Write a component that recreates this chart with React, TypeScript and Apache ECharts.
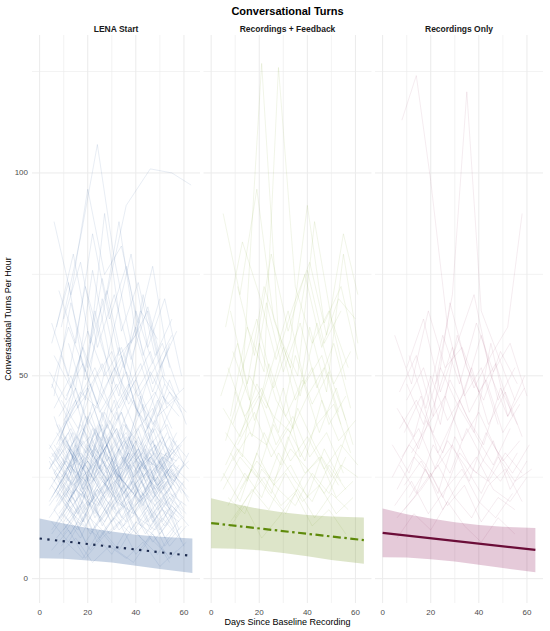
import React, { useEffect, useRef } from "react";
import * as echarts from "echarts";

const chartTitle = "Conversational Turns";
const panelNames = ["LENA Start", "Recordings + Feedback", "Recordings Only"];
const xAxisTitle = "Days Since Baseline Recording";
const yAxisTitle = "Conversational Turns Per Hour";
const xTickLabels = [0, 20, 40, 60];
const yTickLabels = [0, 50, 100];
const xMajorGrid = [0, 20, 40, 60];
const xMinorGrid = [10, 30, 50];
const yMajorGrid = [0, 50, 100];
const yMinorGrid = [25, 75, 125];

// individual trajectories: [day, turns, day, turns, ...]
const lenaTrajectories: number[][] = [
  [6, 24, 13, 31, 20, 18, 27, 35, 34, 22, 41, 28, 48, 19, 55, 26],
  [5, 30, 12, 36, 19, 22, 26, 41, 33, 31, 40, 25, 47, 34, 54, 23, 60, 28],
  [8, 15, 15, 22, 22, 12, 29, 19, 36, 14, 43, 21, 50, 11, 57, 17],
  [4, 29, 11, 20, 18, 34, 25, 27, 32, 41, 39, 25, 46, 30, 53, 22],
  [9, 55, 16, 42, 23, 66, 30, 48, 37, 58, 44, 39, 51, 50, 58, 44],
  [7, 19, 14, 27, 21, 23, 28, 16, 35, 30, 42, 20, 49, 25, 56, 18],
  [6, 33, 13, 26, 20, 40, 27, 31, 34, 27, 41, 37, 48, 24, 55, 32, 62, 27],
  [10, 12, 17, 18, 24, 9, 31, 15, 38, 11, 45, 17, 52, 8, 59, 13],
  [5, 47, 12, 62, 19, 51, 26, 74, 33, 55, 40, 60, 47, 46, 54, 58],
  [8, 26, 15, 35, 22, 29, 29, 24, 36, 38, 43, 30, 50, 27, 57, 34],
  [11, 21, 18, 14, 25, 25, 32, 19, 39, 16, 46, 23, 53, 15],
  [4, 27, 11, 34, 18, 23, 25, 30, 32, 37, 39, 25, 46, 31, 53, 21, 60, 28],
  [7, 62, 14, 80, 21, 58, 28, 71, 35, 52, 42, 66, 49, 59],
  [9, 30, 16, 23, 23, 37, 30, 28, 37, 22, 44, 33, 51, 25, 58, 30],
  [6, 17, 13, 24, 20, 20, 27, 28, 34, 15, 41, 22, 48, 18, 55, 23],
  [12, 32, 19, 24, 26, 38, 33, 27, 40, 34, 47, 22, 54, 30],
  [5, 25, 12, 19, 19, 28, 26, 21, 33, 32, 40, 26, 47, 20, 54, 27, 61, 22],
  [8, 71, 15, 58, 22, 85, 29, 64, 36, 77, 43, 55, 50, 69],
  [10, 28, 17, 38, 24, 31, 31, 44, 38, 29, 45, 36, 52, 27, 59, 33],
  [7, 14, 14, 20, 21, 11, 28, 17, 35, 23, 42, 13, 49, 19, 56, 12],
  [4, 30, 11, 24, 18, 36, 25, 27, 32, 21, 39, 33, 46, 26, 53, 31],
  [13, 23, 20, 29, 27, 21, 34, 26, 41, 32, 48, 22, 55, 28, 62, 24],
  [6, 40, 13, 28, 20, 47, 27, 34, 34, 41, 41, 30, 48, 37, 55, 27],
  [9, 32, 16, 26, 23, 36, 30, 22, 37, 31, 44, 27, 51, 35, 58, 25],
  [5, 20, 12, 27, 19, 17, 26, 24, 33, 20, 40, 29, 47, 16, 54, 22],
  [8, 34, 15, 44, 22, 30, 29, 39, 36, 32, 43, 43, 50, 28, 57, 36],
  [11, 18, 18, 25, 25, 15, 32, 22, 39, 28, 46, 19, 53, 24, 60, 17],
  [7, 26, 14, 21, 21, 32, 28, 24, 35, 29, 42, 20, 49, 27, 56, 23],
  [6, 88, 13, 70, 20, 96, 27, 75, 34, 82, 41, 63],
  [10, 24, 17, 31, 24, 26, 31, 20, 38, 34, 45, 25, 52, 30, 59, 21],
  [4, 27, 11, 35, 18, 22, 25, 30, 32, 37, 39, 23, 46, 32, 53, 26],
  [9, 16, 16, 12, 23, 21, 30, 14, 37, 19, 44, 11, 51, 17, 58, 14],
  [12, 58, 19, 44, 26, 69, 33, 50, 40, 62, 47, 48, 54, 57],
  [5, 31, 12, 24, 19, 38, 26, 29, 33, 25, 40, 34, 47, 28, 54, 35, 61, 30],
  [8, 32, 15, 26, 22, 37, 29, 28, 36, 35, 43, 25, 50, 31, 57, 29],
  [7, 22, 14, 30, 21, 25, 28, 33, 35, 21, 42, 29, 49, 23, 56, 27],
  [13, 28, 20, 20, 27, 34, 34, 24, 41, 30, 48, 22, 55, 28],
  [6, 26, 13, 21, 20, 30, 27, 24, 34, 36, 41, 27, 48, 33, 55, 25, 62, 29],
  [10, 64, 17, 78, 24, 57, 31, 70, 38, 54, 45, 67, 52, 50],
  [4, 19, 11, 26, 18, 16, 25, 22, 32, 27, 39, 18, 46, 24, 53, 20],
  [9, 25, 16, 31, 23, 24, 30, 36, 37, 27, 44, 32, 51, 22, 58, 28],
  [5, 11, 12, 17, 19, 13, 26, 20, 33, 12, 40, 16, 47, 9, 54, 14],
  [8, 38, 15, 29, 22, 43, 29, 31, 36, 36, 43, 27, 50, 34, 57, 30],
  [11, 29, 18, 22, 25, 33, 32, 26, 39, 31, 46, 21, 53, 27, 60, 23],
  [9, 62, 17, 84, 24, 107, 31, 79, 38, 58, 45, 66, 52, 48],
  [28, 70, 36, 92, 46, 101, 55, 100, 63, 97],
  [6, 45, 13, 68, 20, 52, 27, 90, 34, 61, 41, 73, 48, 55, 55, 64],
  [10, 38, 17, 55, 24, 43, 31, 62, 38, 80, 45, 57, 52, 69, 59, 50],
  [5, 58, 12, 73, 19, 49, 26, 64, 33, 88, 40, 60, 47, 77, 54, 52],
  [8, 33, 15, 47, 22, 76, 29, 55, 36, 44, 43, 70, 50, 52, 57, 61],
  [12, 27, 19, 40, 26, 34, 33, 57, 40, 42, 47, 36, 54, 49, 61, 38],
  [7, 20, 14, 31, 21, 24, 28, 38, 35, 29, 42, 45, 49, 26, 56, 34],
  [9, 23, 16, 16, 23, 28, 30, 21, 37, 17, 44, 26, 51, 19, 58, 15],
  [4, 32, 11, 39, 18, 27, 25, 35, 32, 25, 39, 38, 46, 28, 53, 36],
  [6, 17, 13, 11, 20, 19, 27, 14, 34, 22, 41, 15, 48, 12, 55, 18, 62, 13],
  [11, 31, 18, 37, 25, 27, 32, 35, 39, 44, 46, 33, 53, 38, 60, 28],
  [5, 28, 12, 33, 19, 26, 26, 31, 33, 24, 40, 30, 47, 37, 54, 25],
  [8, 21, 15, 16, 22, 24, 29, 30, 36, 18, 43, 23, 50, 28, 57, 20],
  [13, 36, 20, 26, 27, 32, 34, 41, 41, 28, 48, 33, 55, 24],
  [7, 29, 14, 36, 21, 31, 28, 26, 35, 33, 42, 38, 49, 29, 56, 24, 62, 31],
  [10, 14, 17, 21, 24, 18, 31, 26, 38, 15, 45, 20, 52, 24, 59, 16],
  [6, 27, 13, 20, 20, 33, 27, 28, 34, 22, 41, 35, 48, 24, 55, 31],
  [9, 25, 16, 32, 23, 19, 30, 27, 37, 35, 44, 24, 51, 30, 58, 27],
  [5, 63, 12, 50, 19, 72, 26, 57, 33, 45, 40, 66, 47, 53],
  [8, 18, 15, 25, 22, 33, 29, 20, 36, 27, 43, 31, 50, 21, 57, 26],
  [12, 39, 19, 31, 26, 37, 33, 28, 40, 36, 47, 42, 54, 30, 61, 35],
  [4, 22, 11, 29, 18, 24, 25, 18, 32, 26, 39, 21, 46, 27, 53, 31],
  [7, 36, 14, 30, 21, 41, 28, 29, 35, 38, 42, 33, 49, 44, 56, 31],
  [10, 20, 17, 13, 24, 22, 31, 17, 38, 24, 45, 14, 52, 20, 59, 9],
  [6, 30, 13, 37, 20, 27, 27, 41, 34, 33, 41, 26, 48, 39, 55, 29],
  [9, 15, 16, 23, 23, 16, 30, 25, 37, 20, 44, 28, 51, 14, 58, 22],
  [8, 6, 15, 10, 22, 4, 29, 8, 36, 5, 43, 9, 50, 3, 57, 7],
  [11, 9, 18, 5, 25, 12, 32, 7, 39, 4, 46, 10, 53, 6],
  [5, 12, 12, 18, 19, 9, 26, 15, 33, 21, 40, 11, 47, 16, 54, 8, 61, 13],
  [7, 22, 14, 15, 21, 26, 28, 19, 35, 13, 42, 24, 49, 17, 56, 21],
  [9, 8, 16, 14, 23, 11, 30, 6, 37, 13, 44, 9, 51, 15, 58, 10],
  [4, 18, 11, 24, 18, 14, 25, 21, 32, 28, 39, 16, 46, 22, 53, 17],
  [6, 31, 13, 24, 20, 29, 27, 20, 34, 26, 41, 32, 48, 21, 55, 27, 62, 19],
  [10, 16, 17, 10, 24, 19, 31, 24, 38, 12, 45, 18, 52, 13, 59, 19],
  [8, 27, 15, 33, 22, 21, 29, 28, 36, 23, 43, 18, 50, 29, 57, 22],
  [5, 14, 12, 9, 19, 16, 26, 12, 33, 7, 40, 14, 47, 11, 54, 5, 61, 9],
  [11, 25, 18, 20, 25, 28, 32, 16, 39, 23, 46, 27, 53, 18, 60, 24],
  [7, 10, 14, 15, 21, 7, 28, 13, 35, 18, 42, 10, 49, 6, 56, 12],
  [6, 21, 13, 28, 20, 18, 27, 23, 34, 30, 41, 19, 48, 25, 55, 16],
  [9, 35, 16, 28, 23, 32, 30, 25, 37, 31, 44, 22, 51, 28, 58, 33],
  [4, 15, 11, 21, 18, 26, 25, 14, 32, 19, 39, 24, 46, 13, 53, 19, 60, 15],
  [12, 19, 19, 26, 26, 13, 33, 20, 40, 25, 47, 15, 54, 21, 61, 18],
  [8, 24, 15, 19, 22, 29, 29, 35, 36, 20, 43, 26, 50, 19, 57, 25],
  [5, 7, 12, 12, 19, 5, 26, 10, 33, 14, 40, 6, 47, 11, 54, 4],
  [7, 29, 14, 23, 21, 27, 28, 33, 35, 24, 42, 19, 49, 28, 56, 24, 62, 20],
  [10, 11, 17, 17, 24, 22, 31, 12, 38, 17, 45, 21, 52, 10, 59, 15],
  [6, 26, 13, 32, 20, 24, 27, 29, 34, 18, 41, 27, 48, 31, 55, 22],
  [9, 20, 16, 26, 23, 15, 30, 22, 37, 28, 44, 17, 51, 23, 58, 12],
  [4, 33, 11, 27, 18, 30, 25, 38, 32, 26, 39, 21, 46, 30, 53, 25],
  [11, 14, 18, 19, 25, 10, 32, 16, 39, 21, 46, 12, 53, 17, 60, 8],
  [5, 23, 12, 17, 19, 22, 26, 27, 33, 18, 40, 23, 47, 14, 54, 20, 61, 16],
  [8, 16, 15, 22, 22, 18, 29, 11, 36, 16, 43, 20, 50, 12, 57, 18],
  [7, 38, 14, 31, 21, 35, 28, 27, 35, 34, 42, 29, 49, 23, 56, 30],
  [6, 42, 13, 50, 20, 38, 27, 47, 34, 55, 41, 40, 48, 46, 55, 37],
  [9, 36, 16, 44, 23, 52, 30, 41, 37, 48, 44, 36, 51, 45, 58, 40],
  [5, 48, 12, 39, 19, 45, 26, 53, 33, 42, 40, 49, 47, 38, 54, 46, 61, 41],
  [8, 40, 15, 47, 22, 35, 29, 44, 36, 51, 43, 42, 50, 36, 57, 45],
  [11, 45, 18, 53, 25, 41, 32, 48, 39, 38, 46, 51, 53, 43, 60, 47],
  [7, 33, 14, 42, 21, 48, 28, 37, 35, 45, 42, 53, 49, 40, 56, 44],
  [4, 51, 11, 44, 18, 57, 25, 46, 32, 39, 39, 48, 46, 56, 53, 42],
  [10, 39, 17, 46, 24, 42, 31, 52, 38, 44, 45, 37, 52, 48, 59, 41],
  [6, 55, 13, 47, 20, 61, 27, 50, 34, 57, 41, 45, 48, 52, 55, 60],
  [9, 44, 16, 37, 23, 49, 30, 56, 37, 43, 44, 50, 51, 58, 58, 46],
];

const feedbackTrajectories: number[][] = [
  [6, 34, 13, 48, 21, 127, 28, 60, 35, 44, 42, 52, 49, 38, 56, 45],
  [8, 40, 15, 62, 22, 51, 28, 126, 35, 72, 42, 58, 49, 66, 56, 49],
  [5, 22, 12, 30, 19, 25, 26, 38, 33, 29, 40, 35, 47, 27, 54, 33, 61, 28],
  [9, 56, 16, 44, 23, 68, 30, 51, 37, 63, 44, 47, 51, 58, 58, 42],
  [7, 18, 14, 26, 21, 20, 28, 31, 35, 24, 42, 19, 49, 28, 56, 22],
  [11, 72, 18, 55, 25, 80, 32, 61, 39, 75, 46, 57, 53, 69, 60, 64],
  [6, 28, 13, 37, 20, 45, 27, 33, 34, 40, 41, 30, 48, 36, 55, 26],
  [10, 15, 17, 22, 24, 17, 31, 26, 38, 19, 45, 23, 52, 16, 59, 20],
  [4, 45, 11, 58, 18, 39, 25, 52, 32, 66, 39, 48, 46, 55, 53, 41],
  [8, 31, 15, 24, 22, 36, 29, 28, 36, 42, 43, 33, 50, 25, 57, 37],
  [12, 50, 19, 64, 26, 47, 33, 59, 40, 92, 47, 63, 54, 72, 61, 54],
  [5, 26, 12, 19, 19, 31, 26, 23, 33, 28, 40, 20, 47, 32, 54, 24],
  [9, 38, 16, 50, 23, 42, 30, 57, 37, 45, 44, 63, 51, 48, 58, 56],
  [7, 20, 14, 16, 21, 27, 28, 22, 35, 18, 42, 26, 49, 21, 56, 30],
  [6, 62, 13, 83, 20, 70, 27, 54, 34, 67, 41, 78, 48, 60, 55, 85, 61, 70],
  [11, 33, 18, 41, 25, 30, 32, 37, 39, 29, 46, 44, 53, 34, 60, 39],
  [4, 24, 11, 32, 18, 27, 25, 21, 32, 35, 39, 26, 46, 30, 53, 23],
  [10, 46, 17, 35, 24, 53, 31, 40, 38, 49, 45, 36, 52, 47, 59, 33],
  [8, 14, 15, 20, 22, 25, 29, 18, 36, 22, 43, 15, 50, 21, 57, 17],
  [5, 90, 12, 70, 19, 96, 26, 64, 33, 52, 40, 76, 47, 58, 54, 66],
  [9, 29, 16, 36, 23, 33, 30, 47, 37, 30, 44, 38, 51, 43, 58, 31],
  [7, 52, 14, 40, 21, 47, 28, 36, 35, 55, 42, 43, 49, 51, 56, 39],
  [12, 22, 19, 29, 26, 24, 33, 32, 40, 27, 47, 21, 54, 28, 61, 25],
  [6, 36, 13, 30, 20, 58, 27, 44, 34, 37, 41, 62, 48, 46, 55, 80, 61, 58],
  [10, 19, 17, 27, 24, 21, 31, 16, 38, 25, 45, 30, 52, 20, 59, 24],
  [5, 42, 12, 35, 19, 48, 26, 40, 33, 36, 40, 45, 47, 52, 54, 38],
  [8, 66, 15, 48, 22, 72, 29, 59, 36, 50, 43, 88, 50, 64, 57, 52],
  [7, 12, 14, 18, 21, 10, 28, 15, 35, 21, 42, 13, 49, 17, 56, 11],
];

const recordingsTrajectories: number[][] = [
  [8, 113, 14, 124, 20, 98, 27, 62, 34, 45, 41, 52, 48, 38],
  [22, 48, 29, 70, 35, 120, 41, 66, 48, 55, 55, 44],
  [10, 44, 17, 52, 24, 38, 31, 60, 38, 47, 45, 55, 52, 62, 58, 90],
  [6, 22, 13, 30, 20, 25, 27, 34, 34, 28, 41, 21, 48, 30, 55, 24, 62, 27],
  [9, 36, 16, 45, 23, 31, 30, 40, 37, 52, 44, 38, 51, 46, 58, 35],
  [5, 18, 12, 24, 19, 16, 26, 22, 33, 27, 40, 19, 47, 15, 54, 21],
  [11, 55, 18, 42, 25, 60, 32, 48, 39, 63, 46, 51, 53, 58, 60, 45],
  [7, 28, 14, 21, 21, 33, 28, 26, 35, 37, 42, 29, 49, 24, 56, 31],
  [8, 40, 15, 32, 22, 44, 29, 57, 36, 41, 43, 49, 50, 36, 57, 43],
  [4, 25, 11, 33, 18, 28, 25, 20, 32, 31, 39, 26, 46, 34, 53, 22, 60, 29],
  [10, 48, 17, 38, 24, 52, 31, 43, 38, 36, 45, 58, 52, 40, 59, 50],
  [6, 15, 13, 20, 20, 26, 27, 18, 34, 23, 41, 14, 48, 20, 55, 17],
  [12, 31, 19, 38, 26, 45, 33, 34, 40, 41, 47, 32, 54, 26, 61, 33],
  [5, 60, 12, 48, 19, 66, 26, 52, 33, 57, 40, 46, 47, 53, 54, 40],
  [9, 23, 16, 29, 23, 21, 30, 35, 37, 27, 44, 24, 51, 31, 58, 26],
  [7, 37, 14, 44, 21, 36, 28, 49, 35, 40, 42, 33, 49, 47, 56, 38],
  [11, 20, 18, 27, 25, 17, 32, 24, 39, 30, 46, 22, 53, 19, 60, 25],
  [6, 42, 13, 35, 20, 50, 27, 39, 34, 46, 41, 60, 48, 44, 55, 52],
  [8, 30, 15, 37, 22, 27, 29, 33, 36, 24, 43, 36, 50, 29, 57, 34],
  [10, 52, 17, 64, 24, 46, 31, 58, 38, 70, 45, 50, 52, 40, 59, 47],
  [4, 33, 11, 26, 18, 39, 25, 31, 32, 44, 39, 35, 46, 28, 53, 37],
  [9, 17, 16, 22, 23, 28, 30, 20, 37, 15, 44, 23, 51, 27, 58, 19],
  [7, 46, 14, 55, 21, 40, 28, 68, 35, 52, 42, 44, 49, 56, 56, 48],
  [6, 10, 13, 16, 20, 12, 27, 19, 34, 13, 41, 9, 48, 15, 55, 11],
];

// model fit and confidence band
const bandDays = [0, 10, 20, 30, 40, 50, 63.5];
const lenaUpper = [14.8, 13.6, 12.5, 11.6, 10.8, 10.3, 9.9];
const lenaLower = [5.0, 4.9, 4.5, 4.0, 3.2, 2.4, 1.4];
const feedbackUpper = [19.8, 18.4, 17.2, 16.3, 15.7, 15.3, 15.1];
const feedbackLower = [7.5, 7.4, 7.0, 6.3, 5.5, 4.6, 3.7];
const recordingsUpper = [17.3, 15.9, 14.8, 13.9, 13.2, 12.8, 12.5];
const recordingsLower = [5.3, 5.2, 4.8, 4.2, 3.4, 2.6, 1.6];
const fitDays = [0, 63.5];
const lenaFit = [9.9, 5.6];
const feedbackFit = [13.7, 9.5];
const recordingsFit = [11.3, 7.1];

const FONT = "'Liberation Sans', Arial, Helvetica, sans-serif";

const toPairs = (flat: number[]) => {
  const out: number[][] = [];
  for (let i = 0; i + 1 < flat.length; i += 2) out.push([flat[i], flat[i + 1]]);
  return out;
};

export default function App() {
  const ref = useRef<HTMLDivElement>(null);

  useEffect(() => {
    if (!ref.current) return;
    const chart = echarts.init(ref.current, undefined, { renderer: "svg" });

    const X_MIN = -3.175;
    const X_MAX = 66.675;
    const Y_MIN = -6;
    const Y_MAX = 134;

    const gridLefts = [32, 203.5, 375];
    const gridW = 168;
    const gridTop = 35;
    const gridH = 568;

    const groups = [
      {
        traj: lenaTrajectories,
        trajColor: "rgba(60,105,160,0.2)",
        upper: lenaUpper,
        lower: lenaLower,
        fit: lenaFit,
        band: "rgba(70,110,165,0.30)",
        line: "#1c2b4f",
        lineType: [2.3, 5.4] as any,
      },
      {
        traj: feedbackTrajectories,
        trajColor: "rgba(140,170,60,0.2)",
        upper: feedbackUpper,
        lower: feedbackLower,
        fit: feedbackFit,
        band: "rgba(120,150,40,0.25)",
        line: "#5e8a0a",
        lineType: [8, 3.5, 2.5, 3.5] as any,
      },
      {
        traj: recordingsTrajectories,
        trajColor: "rgba(150,60,105,0.17)",
        upper: recordingsUpper,
        lower: recordingsLower,
        fit: recordingsFit,
        band: "rgba(145,35,95,0.24)",
        line: "#6b0d38",
        lineType: "solid" as any,
      },
    ];

    const grid = gridLefts.map((l) => ({ left: l, top: gridTop, width: gridW, height: gridH }));
    const xAxis = gridLefts.map((_, i) => ({
      type: "value",
      gridIndex: i,
      min: X_MIN,
      max: X_MAX,
      axisLine: { show: false },
      axisTick: { show: false },
      splitLine: { show: false },
      axisLabel: {
        customValues: xTickLabels,
        color: "#4d4d4d",
        fontSize: 8,
        fontFamily: FONT,
        margin: 5,
      },
    }));
    const yAxis = gridLefts.map((_, i) => ({
      type: "value",
      gridIndex: i,
      min: Y_MIN,
      max: Y_MAX,
      axisLine: { show: false },
      axisTick: { show: false },
      splitLine: { show: false },
      axisLabel: {
        show: i === 0,
        customValues: yTickLabels,
        color: "#4d4d4d",
        fontSize: 8,
        fontFamily: FONT,
        margin: 4,
      },
    }));

    const series: any[] = [];
    groups.forEach((g, i) => {
      // grid lines
      series.push({
        type: "custom",
        xAxisIndex: i,
        yAxisIndex: i,
        silent: true,
        z: 0,
        data: [[0, 0]],
        renderItem: (_p: any, api: any) => {
          const children: any[] = [];
          const addH = (v: number, w: number) => {
            const a = api.coord([X_MIN, v]);
            const b = api.coord([X_MAX, v]);
            children.push({
              type: "line",
              shape: { x1: a[0], y1: a[1], x2: b[0], y2: b[1] },
              style: { stroke: "#ebebeb", lineWidth: w },
            });
          };
          const addV = (v: number, w: number) => {
            const a = api.coord([v, Y_MIN]);
            const b = api.coord([v, Y_MAX]);
            children.push({
              type: "line",
              shape: { x1: a[0], y1: a[1], x2: b[0], y2: b[1] },
              style: { stroke: "#ebebeb", lineWidth: w },
            });
          };
          yMinorGrid.forEach((v) => addH(v, 0.6));
          xMinorGrid.forEach((v) => addV(v, 0.6));
          yMajorGrid.forEach((v) => addH(v, 1));
          xMajorGrid.forEach((v) => addV(v, 1));
          return { type: "group", children };
        },
      });
      // individual trajectories
      g.traj.forEach((t) => {
        series.push({
          type: "line",
          xAxisIndex: i,
          yAxisIndex: i,
          data: toPairs(t),
          symbol: "none",
          silent: true,
          z: 2,
          lineStyle: { color: g.trajColor, width: 0.6 },
        });
      });
      // band
      series.push({
        type: "custom",
        xAxisIndex: i,
        yAxisIndex: i,
        silent: true,
        z: 3,
        data: [[0, 0]],
        renderItem: (_p: any, api: any) => {
          const pts: number[][] = [];
          for (let k = 0; k < bandDays.length; k++) pts.push(api.coord([bandDays[k], g.upper[k]]));
          for (let k = bandDays.length - 1; k >= 0; k--) pts.push(api.coord([bandDays[k], g.lower[k]]));
          return { type: "polygon", shape: { points: pts }, style: { fill: g.band } };
        },
      });
      // fit line
      series.push({
        type: "line",
        xAxisIndex: i,
        yAxisIndex: i,
        data: fitDays.map((d, k) => [d, g.fit[k]]),
        symbol: "none",
        silent: true,
        z: 4,
        lineStyle: { color: g.line, width: 2.2, type: g.lineType, cap: "butt" },
      });
    });

    const graphic: any[] = [
      {
        type: "text",
        x: 287.5,
        y: 10.5,
        style: {
          text: chartTitle,
          font: `bold 11px ${FONT}`,
          fill: "#000",
          textAlign: "center",
          textVerticalAlign: "middle",
        },
      },
      ...panelNames.map((n, i) => ({
        type: "text",
        x: gridLefts[i] + gridW / 2,
        y: 28.5,
        style: {
          text: n,
          font: `bold 8.5px ${FONT}`,
          fill: "#1a1a1a",
          textAlign: "center",
          textVerticalAlign: "middle",
        },
      })),
      {
        type: "text",
        x: 287.5,
        y: 621.5,
        style: {
          text: xAxisTitle,
          font: `9px ${FONT}`,
          fill: "#000",
          textAlign: "center",
          textVerticalAlign: "middle",
        },
      },
      {
        type: "text",
        x: 8,
        y: 319,
        rotation: Math.PI / 2,
        style: {
          text: yAxisTitle,
          font: `9px ${FONT}`,
          fill: "#000",
          textAlign: "center",
          textVerticalAlign: "middle",
        },
      },
    ];

    chart.setOption({
      animation: false,
      backgroundColor: "#ffffff",
      grid,
      xAxis,
      yAxis,
      series,
      graphic,
    });

    return () => chart.dispose();
  }, []);

  return (
    <div
      ref={ref}
      style={{ position: "fixed", left: 0, top: 0, width: 550, height: 631 }}
    />
  );
}
